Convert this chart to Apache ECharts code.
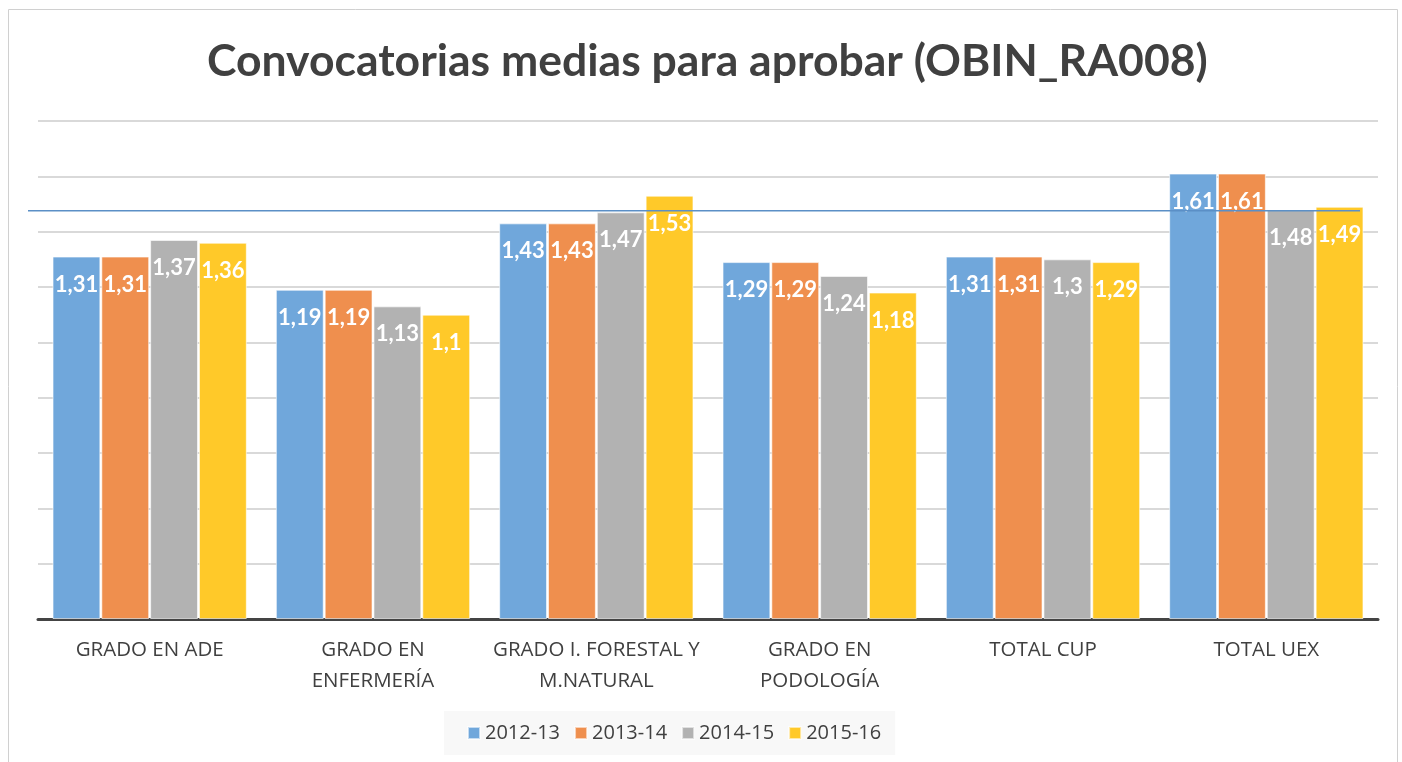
<!DOCTYPE html>
<html>
<head>
<meta charset="utf-8">
<script src="https://cdn.jsdelivr.net/npm/echarts@6/dist/echarts.min.js"></script>
<style>
html,body{margin:0;padding:0;background:#fff;}
#c{width:1402px;height:762px;}
</style>
</head>
<body>
<div id="c"></div>
<script>
const categories = ['GRADO EN ADE', 'GRADO EN\nENFERMERÍA', 'GRADO I. FORESTAL Y\nM.NATURAL', 'GRADO EN\nPODOLOGÍA', 'TOTAL CUP', 'TOTAL UEX'];
const seriesNames = ['2012-13', '2013-14', '2014-15', '2015-16'];
const v2012 = [1.31, 1.19, 1.43, 1.29, 1.31, 1.61];
const v2013 = [1.31, 1.19, 1.43, 1.29, 1.31, 1.61];
const v2014 = [1.37, 1.13, 1.47, 1.24, 1.3, 1.48];
const v2015 = [1.36, 1.1, 1.53, 1.18, 1.29, 1.49];
const refLine = 1.476;
const colors = ['#70a7db', '#ef8f4e', '#b2b2b2', '#ffc929'];

const chart = echarts.init(document.getElementById('c'));
const values = [v2012, v2013, v2014, v2015];
const series = values.map((d, i) => ({
  name: seriesNames[i],
  type: 'bar',
  data: d,
  barGap: '2%',
  barCategoryGap: '13%',
  itemStyle: { color: colors[i], borderColor: 'rgba(255,255,255,0.6)', borderWidth: 1 },
  label: {
    show: true, position: 'insideTop', distance: 17,
    color: '#fff', fontWeight: 'bold', fontSize: 22, fontFamily: 'Lato',
    formatter: p => String(p.value).replace('.', ',')
  }
}));

chart.setOption({
  animation: false,
  color: colors,
  title: {
    text: 'Convocatorias medias para aprobar (OBIN_RA008)',
    left: 202, top: 34,
    textStyle: { fontFamily: 'Lato', fontWeight: 'bold', fontSize: 44.5, color: '#404040' }
  },
  legend: {
    bottom: 7, left: 444,
    itemWidth: 12, itemHeight: 12, itemGap: 14,
    backgroundColor: '#f8f8f8', padding: [12, 14, 12, 23],
    icon: 'rect',
    textStyle: { fontFamily: 'Open Sans', fontSize: 20, color: '#404040' },
    data: seriesNames
  },
  grid: { left: 38, right: 24, top: 121, bottom: 143, containLabel: false },
  xAxis: {
    type: 'category', data: categories,
    axisLine: { lineStyle: { color: '#444', width: 3 } },
    axisTick: { show: false },
    axisLabel: { fontFamily: 'Open Sans', fontSize: 20.5, color: '#404040', margin: 16, lineHeight: 31, interval: 0 }
  },
  yAxis: {
    type: 'value', min: 0, max: 1.8, interval: 0.2,
    axisLabel: { show: false }, axisLine: { show: false }, axisTick: { show: false },
    splitLine: { lineStyle: { color: '#d9d9d9', width: 2 } }
  },
  series: series
});

const yRef = chart.convertToPixel({ yAxisIndex: 0 }, refLine);
chart.setOption({
  graphic: [{
    type: 'rect', z: -1, silent: true,
    shape: { x: 8.5, y: 9.5, width: 1389, height: 800 },
    style: { fill: 'none', stroke: '#d0d0d0', lineWidth: 1 }
  }, {
    type: 'line', z: 100, silent: true,
    shape: { x1: 28, y1: yRef, x2: 1360, y2: yRef },
    style: { stroke: '#5b8fc6', lineWidth: 1.5 }
  }]
});
</script>
</body>
</html>
